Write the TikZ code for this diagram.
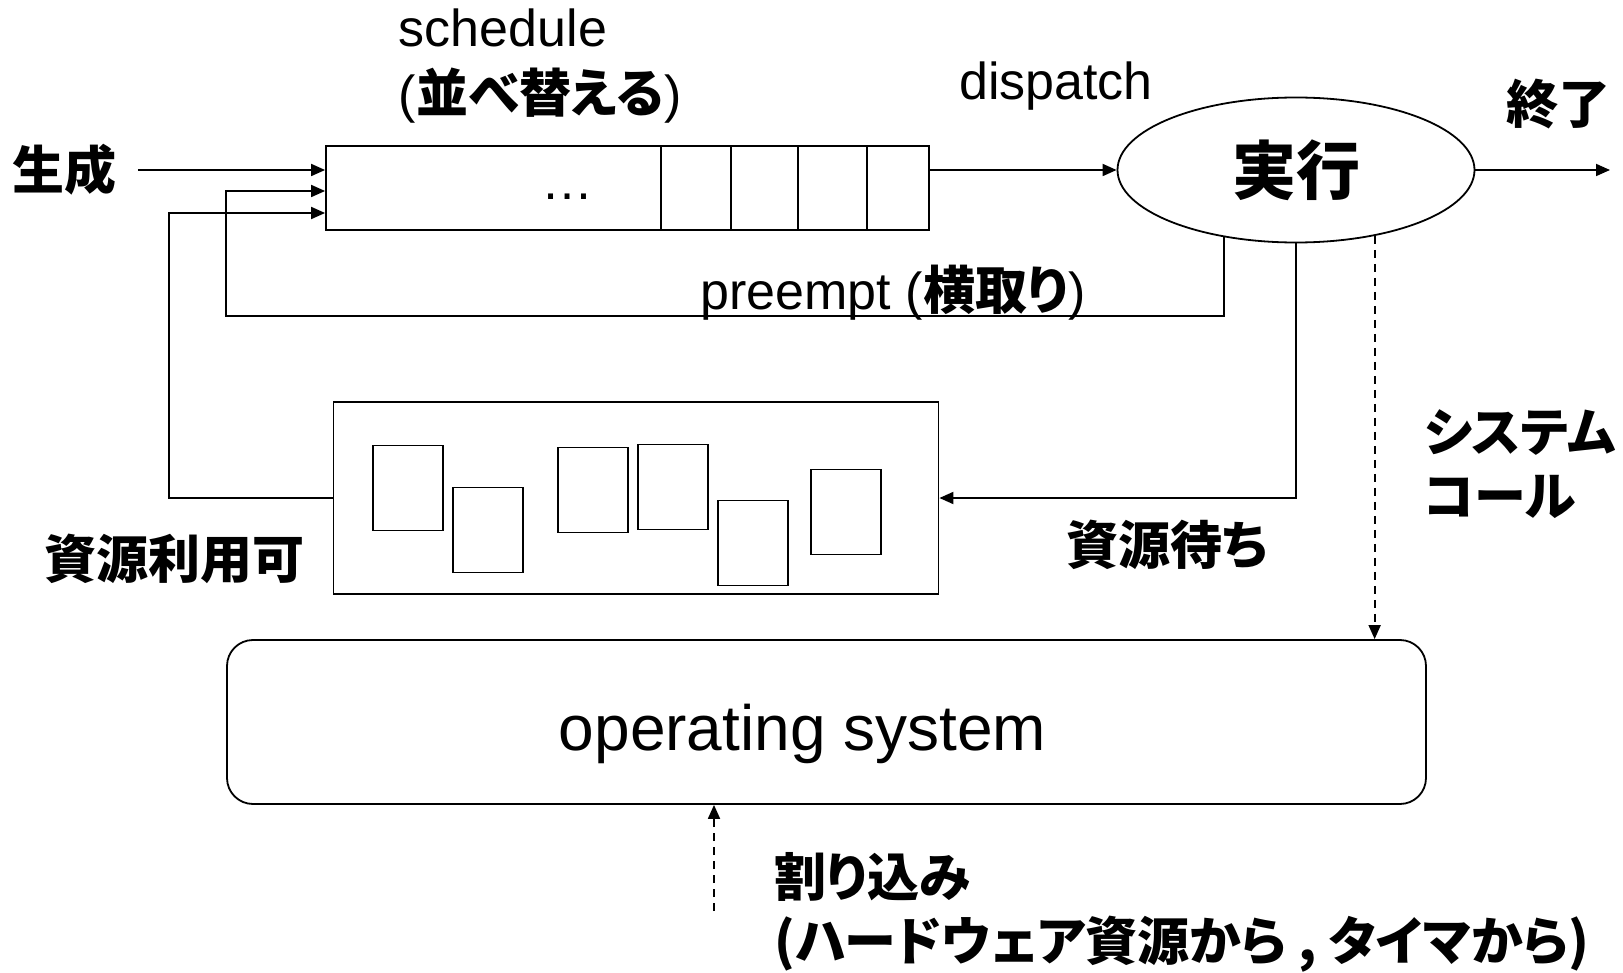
\documentclass[tikz,border=0pt]{standalone}
\usepackage{fontspec}
\setmainfont{Liberation Sans}
\newfontfamily\jp{Noto Sans CJK JP}[RawFeature=+palt]
\usetikzlibrary{shapes.geometric, arrows.meta, positioning}

\begin{document}
\begin{tikzpicture}[x=0.5pt, y=-0.5pt, line width=0.9pt,
    >={Triangle[length=7pt,width=6pt]},
    txt/.style={font=\fontsize{26}{33}\selectfont, inner sep=0pt},
    jtxt/.style={font=\fontsize{26}{32}\selectfont\jp\bfseries, inner sep=0pt},
    box/.style={draw, rectangle, inner sep=0pt},
    doc/.style={box, minimum width=35pt, minimum height=42.5pt},
    dasharrow/.style={->, dash pattern=on 4pt off 3pt}]
   \useasboundingbox (0,0) rectangle (1623,973);

   % queue, running state, waiting pool, os
   \node[box, minimum width=301.5pt, minimum height=42pt] (queue) at (627.5,188) {};
   \node[draw, ellipse, minimum width=178.5pt, minimum height=72.5pt, inner sep=0pt,
         font=\fontsize{32}{32}\selectfont\jp\bfseries] (run) at (1296,170) {実行};
   \node[box, minimum width=302.5pt, minimum height=96pt] (wait) at (636,498) {};
   \node[box, rounded corners=13pt, minimum width=599.5pt, minimum height=82pt,
         label={[font=\fontsize{32}{32}\selectfont, xshift=-12pt, yshift=-6pt]center:operating system}] (os) at (826.5,722) {};

   % queue cells
   \foreach \x in {661,731,798,867}
      \draw (queue.north -| \x,0) -- (queue.south -| \x,0);
   \node[txt, anchor=base] (dots) at (567,200) {…};

   % waiting processes
   \foreach \x/\y [count=\i] in {408/488, 488/530, 593/490, 673/487, 753/543, 846/512}
      \node[doc] (doc\i) at (\x,\y) {};

   % labels
   \node[jtxt] (gen) at (64,170) {生成};
   \node[jtxt] (fin) at (1558,104) {終了};
   \node[txt, anchor=west, align=left] (sched) at (398,66) {schedule\\({\jp\bfseries 並べ替える})};
   \node[txt, anchor=base] (disp) at (1056,100) {dispatch};
   \node[txt, anchor=base] (pre) at (893,310) {preempt ({\jp\bfseries 横取り})};
   \node[jtxt] (avail) at (174,559) {資源利用可};
   \node[jtxt] (need) at (1167,545) {資源待ち};
   \node[jtxt, anchor=west, align=left] (syscall) at (1423,464) {システム\\コール};
   \node[jtxt, anchor=west, align=left] (intr) at (774,912) {割り込み\\(ハードウェア資源から , タイマから)};
   \coordinate (out) at (1610,170);
   \coordinate (irq) at (714,911);

   % transitions
   \draw[->] ([xshift=10.5pt]gen.east) -- ([yshift=9pt]queue.west);
   \draw[->] ([yshift=9pt]queue.east) -- (run.west);
   \draw[->] (run.east) -- (out);
   \draw[->] (run.223) |- (226,316) |- ([yshift=-1.5pt]queue.west);
   \draw[->] (run.south) |- (wait.east);
   \draw[->] (wait.west) -- (169,498) |- ([yshift=-12.5pt]queue.west);
   \draw[dasharrow] (run.320) -- (run.320 |- os.north);
   \draw[dasharrow] (irq) -- (irq |- os.south);
\end{tikzpicture}
\end{document}
